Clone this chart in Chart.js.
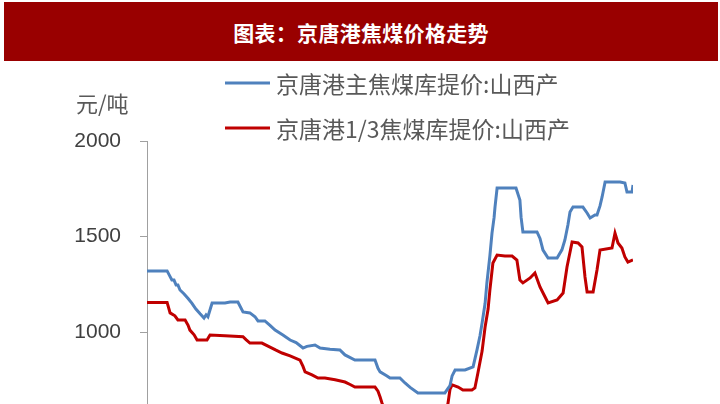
<!DOCTYPE html>
<html><head><meta charset="utf-8">
<script src="https://cdn.jsdelivr.net/npm/chart.js@4.4.1/dist/chart.umd.min.js"></script>
<style>
html,body{margin:0;padding:0;width:720px;height:404px;overflow:hidden;background:#fff;}
#banner{position:absolute;left:4px;top:2px;width:714px;height:59px;background:#990000;color:#fff;font:bold 21px "Noto Sans CJK SC";display:flex;align-items:center;justify-content:center;letter-spacing:0.3px;}
#wrap{position:absolute;left:0;top:0;width:720px;height:440px;}
</style></head><body>
<div id="wrap"><canvas id="c" width="720" height="440"></canvas></div>
<div id="banner"></div>
<script>
const chartTitle = '图表：京唐港焦煤价格走势';
const unitLabel = '元/吨';
const seriesNames = ['京唐港主焦煤库提价:山西产', '京唐港1/3焦煤库提价:山西产'];
const seriesColors = ['#4f81bd', '#c00000'];
const yMin = 500, yMax = 2000, yStep = 500;

// x = week index
const blueWeeks = [0,6.7,7.7,8.3,9,9.7,10.3,11,12.3,13.7,15,16.3,17.7,19,19.7,20.3,21.7,26,27.7,30.3,32,34.3,36,37,39.3,41,42.7,45.3,47.7,49.7,52,53.3,56,57.7,61,64.3,66,69.3,76,77,77.7,80,81,84.3,86,87.7,90.3,99.3,101,101.7,102.7,106,108.7,110,111,111.7,112.7,113.3,114.3,115,115.7,116,116.7,123,124.3,124.7,125.3,130,131,132,133.7,136.7,138.3,139.3,140.3,141,142,145.3,146.7,147.7,149.3,150,151,151.7,152.7,157.7,159.3,160,161.7,162];
const blueValues = [1320,1320,1290,1272,1272,1246,1246,1220,1200,1175,1150,1120,1095,1073,1090,1080,1152,1152,1157,1157,1105,1100,1080,1058,1058,1035,1010,984,958,945,916,925,932,916,910,906,880,853,853,810,791,770,759,759,733,710,681,681,720,770,801,801,817,906,980,1047,1150,1257,1400,1518,1600,1654,1754,1754,1691,1600,1524,1524,1490,1429,1387,1387,1430,1482,1560,1628,1654,1654,1623,1597,1613,1613,1660,1707,1785,1785,1780,1733,1733,1770];

const redWeeks = [0,6.7,7.7,9.3,10.3,12.7,13.7,14.3,15.7,16.7,20,21,26,32,33,34.3,38.3,41,43,45,47.7,51,52,52.7,55,57,59.3,62.7,66,67.7,69.3,76,77,77.7,78.3,79,80,85,95,99,100.3,101,101.7,103.7,105.3,108.3,109.3,110.3,111.7,112.7,113.7,114.3,115.3,116.7,119.3,121.7,123.3,124.3,125.3,127.7,129.3,131,132.7,133.7,136.7,138.7,140,141.7,143.7,145,146,146.7,148.7,150,151,155,156,157,158.3,159.3,160.3,162];
const redValues = [1155,1155,1100,1085,1063,1063,1035,1010,985,958,958,984,980,975,960,942,942,921,905,890,875,853,820,791,775,759,759,750,738,725,712,712,690,660,630,600,575,560,555,580,623,700,723,712,696,696,707,785,900,1026,1120,1220,1361,1403,1398,1398,1377,1272,1257,1283,1309,1236,1183,1152,1168,1204,1340,1471,1466,1445,1288,1209,1209,1325,1429,1440,1518,1466,1440,1393,1366,1377];

document.getElementById('banner').textContent = chartTitle;

const toPts = (xs, ys) => xs.map((x, i) => ({x: x, y: ys[i]}));

const legendPlugin = {
  id: 'customLegend',
  afterDraw(chart) {
    const ctx = chart.ctx;
    ctx.save();
    chart.data.datasets.forEach((ds, i) => {
      const y = 83 + i * 45;
      ctx.strokeStyle = ds.borderColor;
      ctx.lineWidth = 3;
      ctx.beginPath(); ctx.moveTo(225, y); ctx.lineTo(270, y); ctx.stroke();
      ctx.fillStyle = '#595959';
      ctx.font = '23px "Noto Sans CJK SC"';
      ctx.textBaseline = 'middle';
      ctx.textAlign = 'left';
      ctx.fillText(ds.label, 276, y + 1);
    });
    ctx.font = '22px "Noto Sans CJK SC"';
    ctx.fillStyle = '#595959';
    ctx.textBaseline = 'middle';
    ctx.fillText(unitLabel, 76, 104);
    ctx.restore();
  }
};

new Chart(document.getElementById('c'), {
  type: 'line',
  data: {
    datasets: [
      {label: seriesNames[0], data: toPts(blueWeeks, blueValues), borderColor: seriesColors[0], borderWidth: 3, pointRadius: 0, tension: 0, fill: false},
      {label: seriesNames[1], data: toPts(redWeeks, redValues), borderColor: seriesColors[1], borderWidth: 3, pointRadius: 0, tension: 0, fill: false}
    ]
  },
  options: {
    responsive: false,
    animation: false,
    devicePixelRatio: 1,
    layout: {padding: {top: 141, left: 0, right: 87, bottom: 12.5}},
    plugins: {legend: {display: false}, title: {display: false}, tooltip: {enabled: false}},
    scales: {
      x: {type: 'linear', min: 0, max: 162, display: false},
      y: {
        min: yMin, max: yMax,
        afterFit(s) { s.width = 147; s.paddingTop = 0; s.paddingBottom = 0; },
        ticks: {stepSize: yStep, padding: 19, color: '#404040', font: {family: 'Liberation Sans', size: 21}, callback: v => String(v)},
        grid: {drawOnChartArea: false, drawTicks: true, tickLength: 7, tickColor: '#a0a0a0', color: '#a0a0a0'},
        border: {display: true, color: '#a0a0a0', width: 1}
      }
    }
  },
  plugins: [legendPlugin]
});
</script>
</body></html>
